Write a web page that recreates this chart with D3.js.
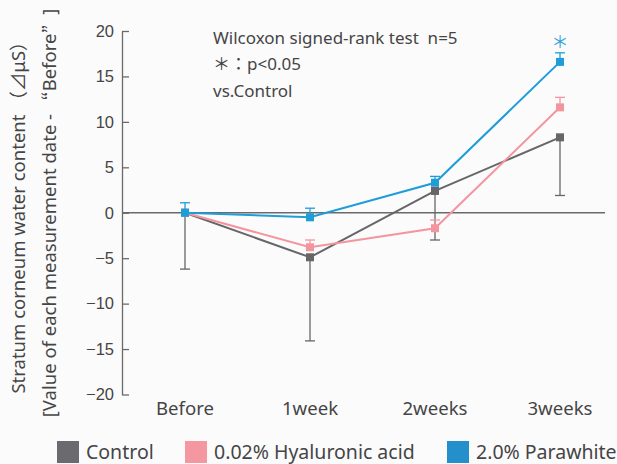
<!DOCTYPE html>
<html>
<head>
<meta charset="utf-8">
<script src="https://cdn.jsdelivr.net/npm/d3@7"></script>
<style>
  html, body { margin: 0; padding: 0; background: #fbfbfc; }
  svg { display: block; font-family: "Noto Sans", "Noto Sans CJK JP", sans-serif; }
  .cjk { font-family: "Noto Sans CJK JP"; }
</style>
</head>
<body>
<div class="chart"></div>
<script>
// values
var categories = ["Before", "1week", "2weeks", "3weeks"];
var control = [0, -4.9, 2.4, 8.3];
var controlErr = [6.2, 9.2, 5.4, 6.4];      // drawn downward
var hyaluronic = [0, -3.8, -1.7, 11.6];
var hyaluronicErr = [0, 0.8, 0.9, 1.1];     // drawn upward
var parawhite = [0, -0.5, 3.3, 16.6];
var parawhiteErr = [1.1, 1.0, 0.7, 1.0];    // drawn upward
var yTicks = [20, 15, 10, 5, 0, -5, -10, -15, -20];
var legendLabels = ["Control", "0.02% Hyaluronic acid", "2.0% Parawhite"];
var noteLines = ["Wilcoxon signed-rank test  n=5", "＊：p<0.05", "vs.Control"];

var width = 617, height = 464;
var svg = d3.select(".chart").append("svg")
  .attr("width", width)
  .attr("height", height);

var x = d3.scalePoint()
  .domain(categories)
  .range([185, 560]);
var y = d3.scaleLinear()
  .domain([-20, 20])
  .range([394.5, 31]);

var textColor = "#454545";

// y axis
var yAxis = svg.append("g")
  .attr("transform", "translate(122,0)")
  .call(d3.axisLeft(y).tickValues(yTicks).tickSizeInner(-7).tickSizeOuter(0).tickPadding(8));
yAxis.select(".domain").attr("stroke", "#6a6a6a").attr("stroke-width", 1.3);
yAxis.selectAll(".tick line").attr("stroke", "#6a6a6a").attr("stroke-width", 1.3);
yAxis.selectAll(".tick text")
  .attr("fill", textColor)
  .style("font-size", "16.5px");

// zero line
svg.append("line")
  .attr("x1", 122).attr("x2", 605)
  .attr("y1", y(0)).attr("y2", y(0))
  .attr("stroke", "#6a6a6a")
  .attr("stroke-width", 1.3);

// x labels
svg.selectAll(".xlabel")
  .data(categories)
  .enter()
  .append("text")
  .attr("class", "xlabel")
  .attr("x", function (d) { return x(d); })
  .attr("y", 415)
  .attr("text-anchor", "middle")
  .attr("fill", textColor)
  .style("font-size", "18.6px")
  .text(function (d) { return d; });

// y title (two lines, full-width brackets/quotes as in the original)
var yTitle = svg.append("text")
  .attr("transform", "translate(0,213) rotate(-90)")
  .attr("text-anchor", "middle")
  .attr("fill", textColor)
  .style("font-size", "18.5px");
var l1 = yTitle.append("tspan").attr("x", 0).attr("y", 25);
l1.append("tspan").text("Stratum corneum water content ");
l1.append("tspan").attr("class", "cjk").text("（\u22BF");
l1.append("tspan").text("μS");
l1.append("tspan").attr("class", "cjk").text("）");
var l2 = yTitle.append("tspan").attr("x", 0).attr("y", 56);
l2.append("tspan").text("[Value of each measurement date - ");
l2.append("tspan").attr("class", "cjk").attr("dx", 9).text("\u201C");
l2.append("tspan").text("Before");
l2.append("tspan").attr("class", "cjk").text("\u201D");
l2.append("tspan").attr("dx", 10).text("]");

var series = [
  { name: legendLabels[0], values: control, err: controlErr, dir: -1, color: "#666668", legend: "#6b6b6f" },
  { name: legendLabels[1], values: hyaluronic, err: hyaluronicErr, dir: 1, color: "#f4959e", legend: "#f497a0" },
  { name: legendLabels[2], values: parawhite, err: parawhiteErr, dir: 1, color: "#1f9dd8", legend: "#2390cc" }
];

var line = d3.line()
  .x(function (d, i) { return x(categories[i]); })
  .y(function (d) { return y(d); });

series.forEach(function (s) {
  var g = svg.append("g");
  // error bars
  s.values.forEach(function (v, i) {
    if (!s.err[i]) return;
    var cx = x(categories[i]);
    var end = y(v + s.dir * s.err[i]);
    g.append("line")
      .attr("x1", cx).attr("x2", cx)
      .attr("y1", y(v)).attr("y2", end)
      .attr("stroke", s.color).attr("stroke-width", 1.3);
    g.append("line")
      .attr("x1", cx - 5).attr("x2", cx + 5)
      .attr("y1", end).attr("y2", end)
      .attr("stroke", s.color).attr("stroke-width", 1.3);
  });
  g.append("path")
    .datum(s.values)
    .attr("d", line)
    .attr("fill", "none")
    .attr("stroke", s.color)
    .attr("stroke-width", 2);
  g.selectAll("rect")
    .data(s.values)
    .enter()
    .append("rect")
    .attr("x", function (d, i) { return x(categories[i]) - 4; })
    .attr("y", function (d) { return y(d) - 4; })
    .attr("width", 8)
    .attr("height", 8)
    .attr("fill", s.color);
});

// significance mark
svg.append("text")
  .attr("x", x("3weeks"))
  .attr("y", 48)
  .attr("text-anchor", "middle")
  .attr("fill", "#3aa6dc")
  .style("font-size", "17px")
  .style("font-family", "Noto Sans CJK JP")
  .text("＊");

// note
svg.selectAll(".note")
  .data(noteLines)
  .enter()
  .append("text")
  .attr("class", "note")
  .attr("x", 213)
  .attr("y", function (d, i) { return [43.5, 70, 96.5][i]; })
  .attr("fill", textColor)
  .style("font-size", "17px")
  .style("white-space", "pre")
  .text(function (d) { return d; });

// legend
var legendX = [57, 185, 447];
var lg = svg.selectAll(".legend")
  .data(series)
  .enter()
  .append("g")
  .attr("class", "legend")
  .attr("transform", function (d, i) { return "translate(" + legendX[i] + ",441)"; });
lg.append("rect")
  .attr("width", 22)
  .attr("height", 22)
  .attr("fill", function (d) { return d.legend; });
lg.append("text")
  .attr("x", 29)
  .attr("y", 18)
  .attr("fill", textColor)
  .style("font-size", "19.5px")
  .text(function (d) { return d.name; });
</script>
</body>
</html>
